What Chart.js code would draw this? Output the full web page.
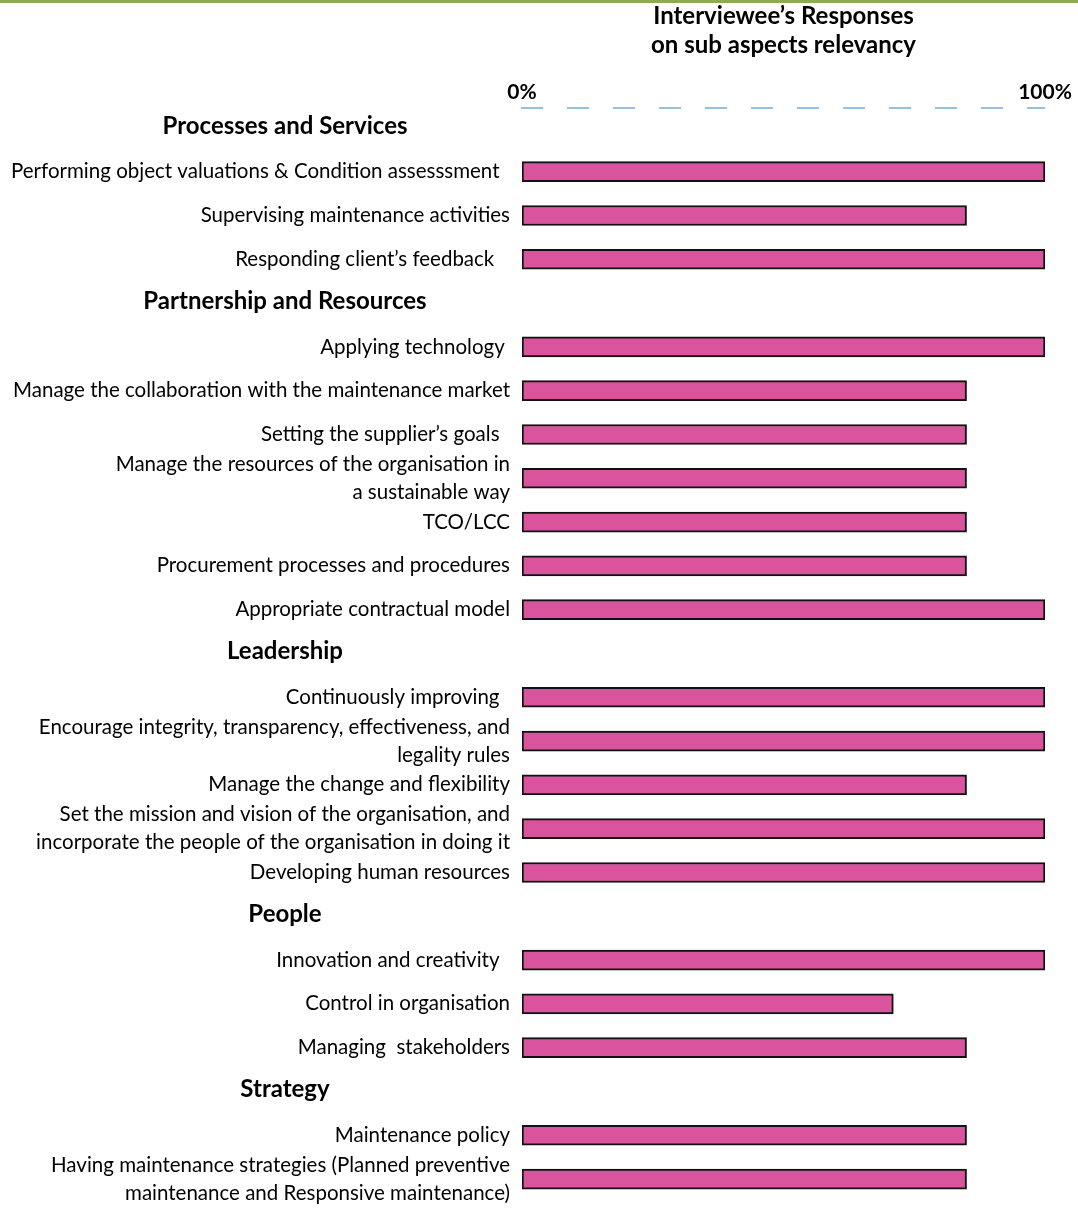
<!DOCTYPE html>
<html>
<head>
<meta charset="utf-8">
<script src="https://cdn.jsdelivr.net/npm/chart.js@4"></script>
<style>
  html, body { margin: 0; padding: 0; background: #fff; }
  #wrap { position: relative; width: 1078px; height: 1227px; }
  #topline { position: absolute; left: 0; top: 0; width: 1078px; height: 3px; background: #8faa55; }
</style>
</head>
<body>
<div id="wrap">
  <canvas id="chart" width="1078" height="1227"></canvas>
  <div id="topline"></div>
</div>
<script>
// group headers (drawn bold, centred on the left)
const groups = ['Processes and Services', 'Partnership and Resources', 'Leadership', 'People', 'Strategy'];

// rows, top to bottom (headers included so they get their own row)
const categories = [
    'Processes and Services',
    'Performing object valuations & Condition assesssment  ',
    'Supervising maintenance activities',
    'Responding client\u2019s feedback   ',
    'Partnership and Resources',
    'Applying technology ',
    'Manage the collaboration with the maintenance market',
    'Setting the supplier\u2019s goals  ',
    ['Manage the resources of the organisation in', 'a sustainable way'],
    'TCO/LCC',
    'Procurement processes and procedures',
    'Appropriate contractual model',
    'Leadership',
    'Continuously improving  ',
    ['Encourage integrity, transparency, effectiveness, and', 'legality rules'],
    'Manage the change and flexibility',
    ['Set the mission and vision of the organisation, and', 'incorporate the people of the organisation in doing it'],
    'Developing human resources',
    'People',
    'Innovation and creativity  ',
    'Control in organisation',
    'Managing  stakeholders',
    'Strategy',
    'Maintenance policy',
    ['Having maintenance strategies (Planned preventive', 'maintenance and Responsive maintenance)']
];

// % of interviewees who found the sub aspect relevant (null = header row)
const responses = [
    null, 100, 85, 100,
    null, 100, 85, 85, 85, 85, 85, 100,
    null, 100, 100, 85, 100, 100,
    null, 100, 71, 85,
    null, 85, 85
];

const xTicks = [0, 100];

const isHeader = label => typeof label === 'string' && groups.includes(label);

// bold group headers in the label column + dashed axis line on top
const extras = {
    id: 'extras',
    afterDraw(chart) {
        const ctx = chart.ctx;
        const y = chart.scales.y;
        const area = chart.chartArea;
        ctx.save();
        ctx.font = 'bold 24px Lato';
        ctx.fillStyle = '#000';
        ctx.textAlign = 'center';
        ctx.textBaseline = 'middle';
        categories.forEach((c, i) => {
            if (isHeader(c)) ctx.fillText(c, 285, y.getPixelForValue(i) - 2);
        });

        ctx.strokeStyle = '#6fb0e0';
        ctx.lineWidth = 1.5;
        ctx.setLineDash([22, 24]);
        ctx.beginPath();
        ctx.moveTo(area.left - 1, area.top + 2);
        ctx.lineTo(area.right, area.top + 2);
        ctx.stroke();
        ctx.restore();
    }
};

new Chart(document.getElementById('chart'), {
    type: 'bar',
    data: {
        labels: categories,
        datasets: [{
            label: 'Responses',
            data: responses,
            backgroundColor: '#d9549c',
            borderColor: '#111',
            borderWidth: 2,
            borderSkipped: false,
            barThickness: 20
        }]
    },
    options: {
        indexAxis: 'y',
        responsive: false,
        animation: false,
        layout: { padding: { top: 0, right: 33, bottom: 6, left: 0 } },
        plugins: {
            legend: { display: false },
            tooltip: { enabled: false },
            title: {
                display: true,
                fullSize: false,
                text: ['Interviewee\u2019s Responses', 'on sub aspects relevancy'],
                color: '#000',
                font: { family: 'Lato', size: 24, weight: 'bold', lineHeight: 1.2 },
                padding: { top: 2, bottom: 0 }
            }
        },
        scales: {
            x: {
                position: 'top',
                min: 0,
                max: 100,
                afterBuildTicks: scale => { scale.ticks = xTicks.map(v => ({ value: v })); },
                afterFit: scale => { scale.height = 46.4; },
                grid: { display: false, drawTicks: false },
                border: { display: false },
                ticks: {
                    color: '#000',
                    padding: 1,
                    font: { family: 'Lato', size: 21, weight: 'bold' },
                    callback: v => v + '%'
                }
            },
            y: {
                afterFit: scale => { scale.width = 522; },
                grid: { display: false, drawTicks: false },
                border: { display: false },
                ticks: {
                    color: '#000',
                    padding: 12,
                    autoSkip: false,
                    font: { family: 'Lato', size: 20.5, lineHeight: 1.37 },
                    callback: function (v, i) {
                        const c = categories[i];
                        return isHeader(c) ? '' : c;
                    }
                }
            }
        }
    },
    plugins: [extras]
});
</script>
</body>
</html>
